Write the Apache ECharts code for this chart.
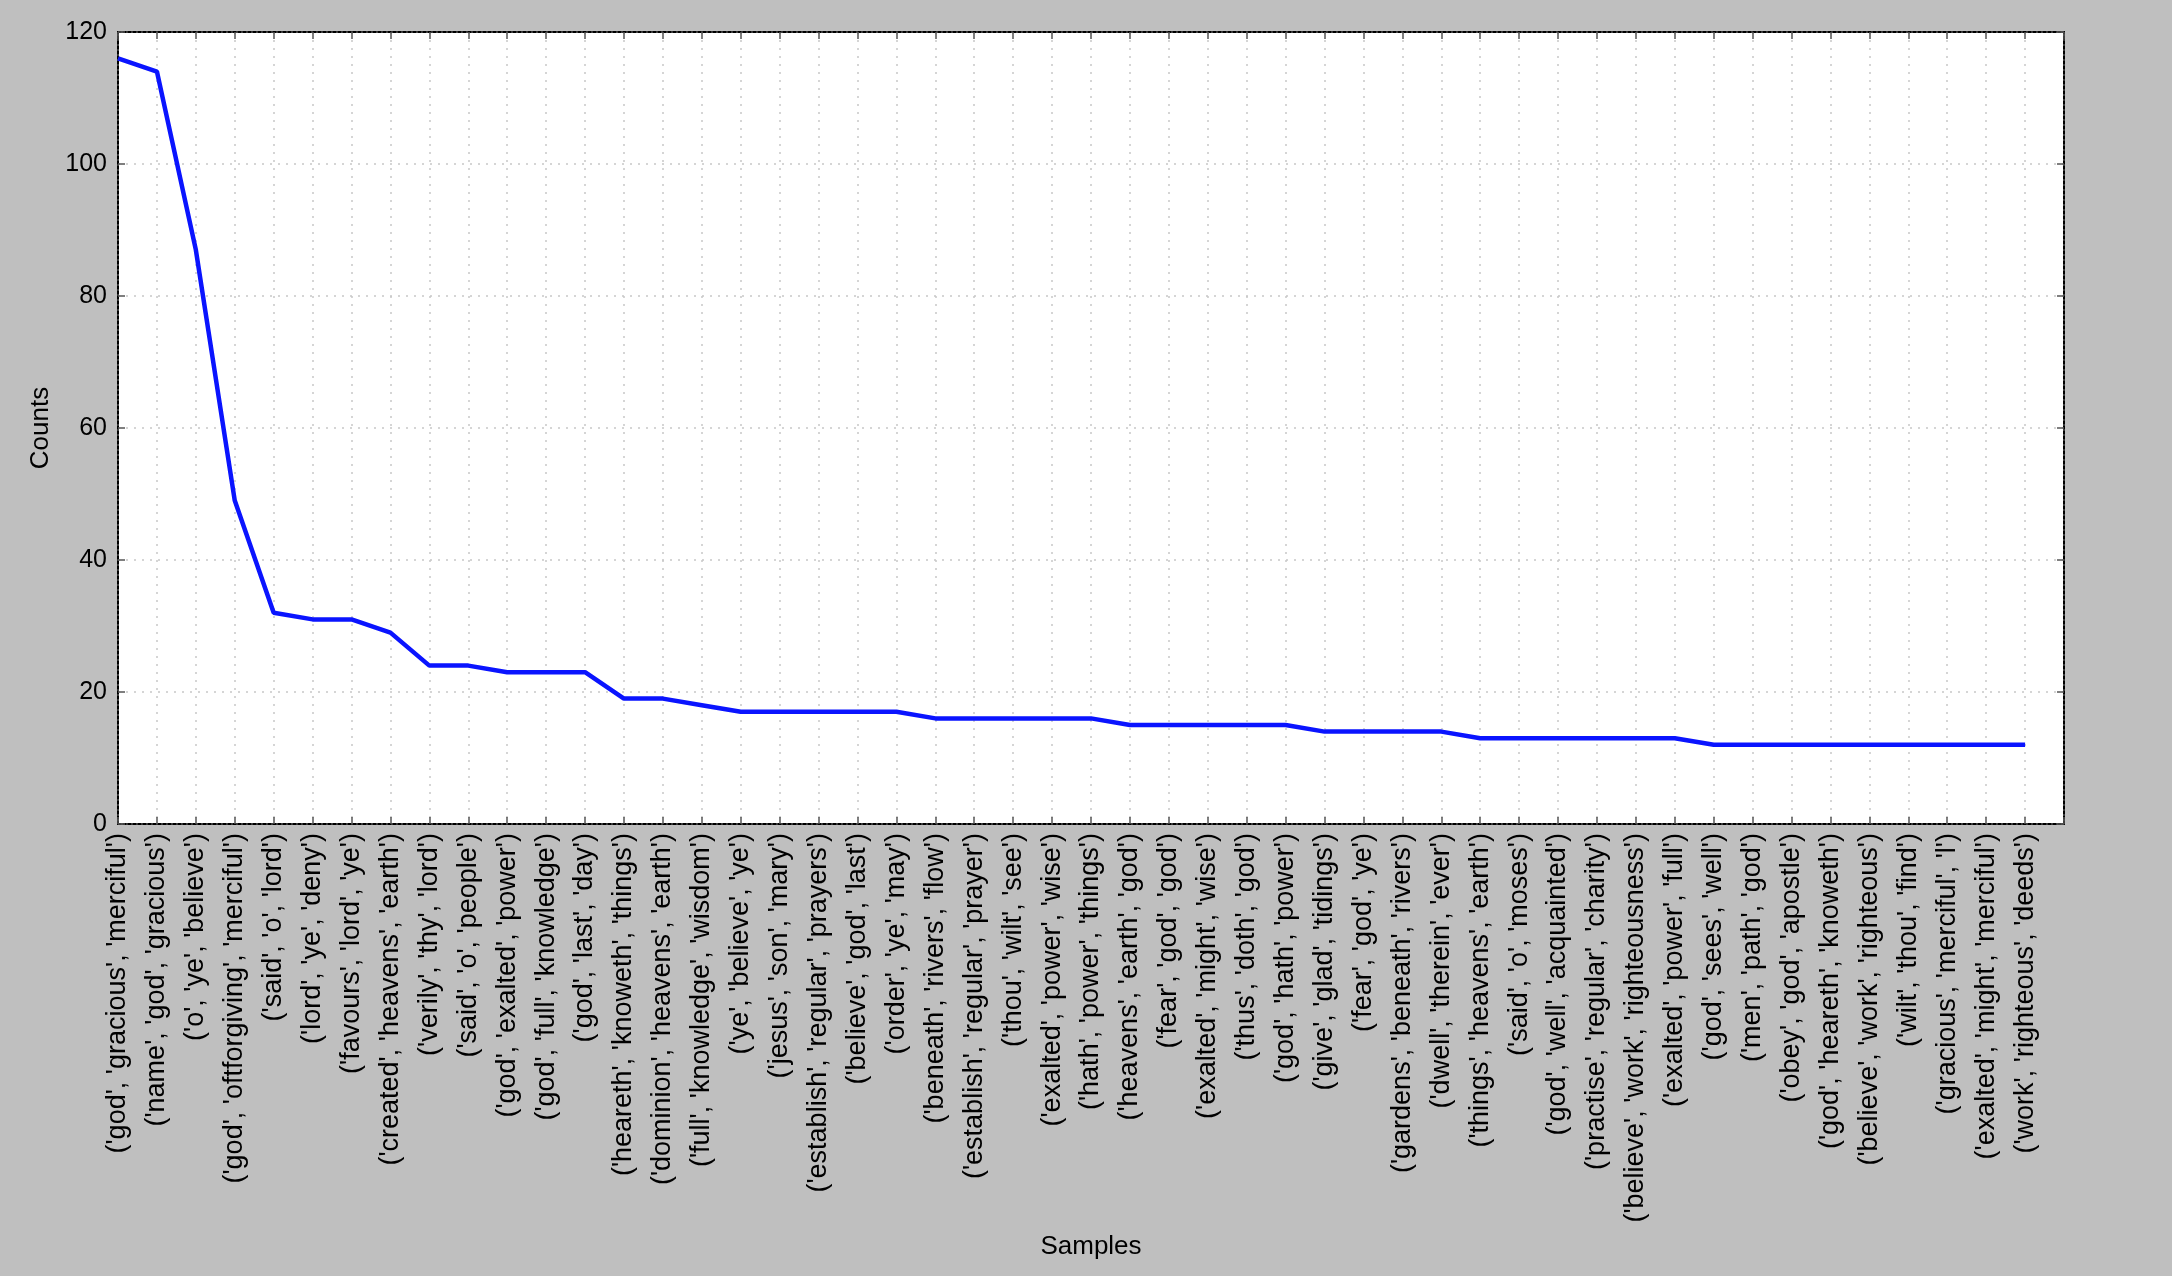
<!DOCTYPE html>
<html>
<head>
<meta charset="utf-8">
<script src="https://cdn.jsdelivr.net/npm/echarts@6/dist/echarts.min.js"></script>
<style>
html,body{margin:0;padding:0;background:#bfbfbf;}
#chart{width:2172px;height:1276px;}
</style>
</head>
<body>
<div id="chart"></div>
<script>
const categories = [
"('god', 'gracious', 'merciful')",
"('name', 'god', 'gracious')",
"('o', 'ye', 'believe')",
"('god', 'oftforgiving', 'merciful')",
"('said', 'o', 'lord')",
"('lord', 'ye', 'deny')",
"('favours', 'lord', 'ye')",
"('created', 'heavens', 'earth')",
"('verily', 'thy', 'lord')",
"('said', 'o', 'people')",
"('god', 'exalted', 'power')",
"('god', 'full', 'knowledge')",
"('god', 'last', 'day')",
"('heareth', 'knoweth', 'things')",
"('dominion', 'heavens', 'earth')",
"('full', 'knowledge', 'wisdom')",
"('ye', 'believe', 'ye')",
"('jesus', 'son', 'mary')",
"('establish', 'regular', 'prayers')",
"('believe', 'god', 'last')",
"('order', 'ye', 'may')",
"('beneath', 'rivers', 'flow')",
"('establish', 'regular', 'prayer')",
"('thou', 'wilt', 'see')",
"('exalted', 'power', 'wise')",
"('hath', 'power', 'things')",
"('heavens', 'earth', 'god')",
"('fear', 'god', 'god')",
"('exalted', 'might', 'wise')",
"('thus', 'doth', 'god')",
"('god', 'hath', 'power')",
"('give', 'glad', 'tidings')",
"('fear', 'god', 'ye')",
"('gardens', 'beneath', 'rivers')",
"('dwell', 'therein', 'ever')",
"('things', 'heavens', 'earth')",
"('said', 'o', 'moses')",
"('god', 'well', 'acquainted')",
"('practise', 'regular', 'charity')",
"('believe', 'work', 'righteousness')",
"('exalted', 'power', 'full')",
"('god', 'sees', 'well')",
"('men', 'path', 'god')",
"('obey', 'god', 'apostle')",
"('god', 'heareth', 'knoweth')",
"('believe', 'work', 'righteous')",
"('wilt', 'thou', 'find')",
"('gracious', 'merciful', 'l')",
"('exalted', 'might', 'merciful')",
"('work', 'righteous', 'deeds')"
];
const counts = [116,114,87,49,32,31,31,29,24,24,23,23,23,19,19,18,17,17,17,17,17,16,16,16,16,16,15,15,15,15,15,14,14,14,14,13,13,13,13,13,13,12,12,12,12,12,12,12,12,12];
const yTicks = [0,20,40,60,80,100,120];
const xLabel = 'Samples';
const yLabel = 'Counts';

const FONT = '"Liberation Sans", Arial, Helvetica, sans-serif';
const frameLine = {show:true, onZero:false, lineStyle:{color:'#000', width:2, type:[3,2]}};
const tickStyle = {show:true, inside:true, length:7, lineStyle:{color:'#555', width:1.5}};
const gridLine = {show:true, lineStyle:{color:'#c8c8c8', width:1.5, type:[2,6]}};

const chart = echarts.init(document.getElementById('chart'), null, {renderer:'canvas'});
chart.setOption({
  backgroundColor:'#bfbfbf',
  animation:false,
  grid:{left:118, right:108, top:32, bottom:452, show:true, backgroundColor:'#ffffff', borderWidth:0},
  xAxis:[{
    type:'value', min:0, max:categories.length, interval:1, position:'bottom',
    axisLine:frameLine, axisTick:tickStyle, splitLine:gridLine,
    axisLabel:{rotate:90, fontSize:27, color:'#000', fontFamily:FONT, margin:9,
      formatter:(v)=> (categories[v] !== undefined ? categories[v] : '')},
    name:xLabel, nameLocation:'middle', nameGap:410,
    nameTextStyle:{fontSize:26, color:'#000', fontFamily:FONT}
  },{
    type:'value', min:0, max:categories.length, interval:1, position:'top',
    axisLine:frameLine, axisTick:tickStyle, splitLine:{show:false}, axisLabel:{show:false}
  }],
  yAxis:[{
    type:'value', min:yTicks[0], max:yTicks[yTicks.length-1], interval:yTicks[1]-yTicks[0], position:'left',
    axisLine:frameLine, axisTick:tickStyle, splitLine:gridLine,
    axisLabel:{fontSize:25, color:'#000', fontFamily:FONT, margin:11},
    name:yLabel, nameLocation:'middle', nameGap:64, nameRotate:90,
    nameTextStyle:{fontSize:26, color:'#000', fontFamily:FONT}
  },{
    type:'value', min:yTicks[0], max:yTicks[yTicks.length-1], interval:yTicks[1]-yTicks[0], position:'right',
    axisLine:frameLine, axisTick:tickStyle, splitLine:{show:false}, axisLabel:{show:false}
  }],
  series:[{
    type:'line', xAxisIndex:0, yAxisIndex:0,
    data: counts.map((c,i)=>[i,c]),
    showSymbol:false, symbol:'none',
    lineStyle:{color:'#0a14ff', width:4.5},
    itemStyle:{color:'#0a14ff'}
  }]
});
</script>
</body>
</html>
